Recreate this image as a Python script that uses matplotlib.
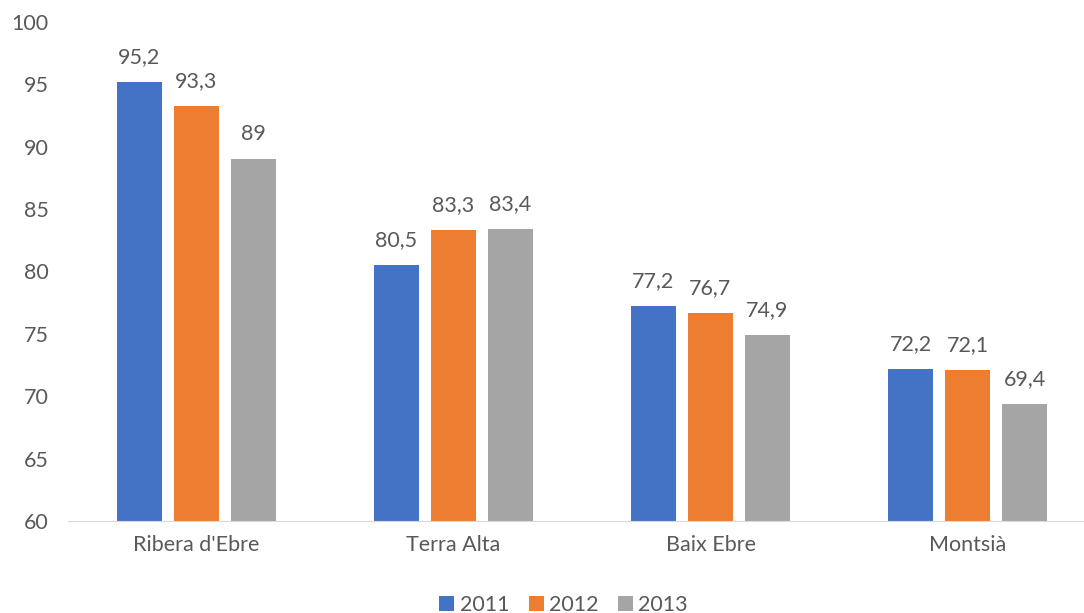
import numpy as np
import matplotlib.pyplot as plt

plt.rcParams['font.family'] = ['Lato', 'DejaVu Sans']

comarques = ["Ribera d'Ebre", "Terra Alta", "Baix Ebre", "Montsià"]
anys = ["2011", "2012", "2013"]
v2011 = [95.2, 80.5, 77.2, 72.2]
v2012 = [93.3, 83.3, 76.7, 72.1]
v2013 = [89, 83.4, 74.9, 69.4]
colors = ["#4472C4", "#ED7D31", "#A5A5A5"]
txt = '#595959'

fig = plt.figure(figsize=(10.84, 6.13), dpi=100)
ax = fig.add_axes([68/1084, 1-521/613, (1096-68)/1084, (521-22)/613])

x = np.arange(len(comarques))
w = 0.175
step = 0.222
for i, (vals, lab) in enumerate(zip([v2011, v2012, v2013], anys)):
    pos = x + (i-1)*step
    ax.bar(pos, np.array(vals)-60, w, bottom=60, color=colors[i], label=lab)
    for p, v in zip(pos, vals):
        ax.text(p, v+1.2, ('%g' % v).replace('.', ','), ha='center', va='bottom',
                fontsize=15.5, color=txt)

ax.set_ylim(60, 100)
ax.set_xlim(-0.5, 3.5)
ax.set_yticks(range(60, 101, 5))
ax.set_xticks(x)
ax.set_xticklabels(comarques)
ax.tick_params(axis='both', length=0, labelsize=15.5, colors=txt)
ax.tick_params(axis='x', pad=10)
ax.tick_params(axis='y', pad=14)
for s in ['top', 'right', 'left']:
    ax.spines[s].set_visible(False)
ax.spines['bottom'].set_color('#D9D9D9')

fig.legend(loc='lower center', bbox_to_anchor=(0.52, -0.035), ncol=3, frameon=False,
           fontsize=15.5, handlelength=0.7, handleheight=0.7, handletextpad=0.25,
           columnspacing=0.9, labelcolor=txt)

fig.savefig('out.png', dpi=100)
